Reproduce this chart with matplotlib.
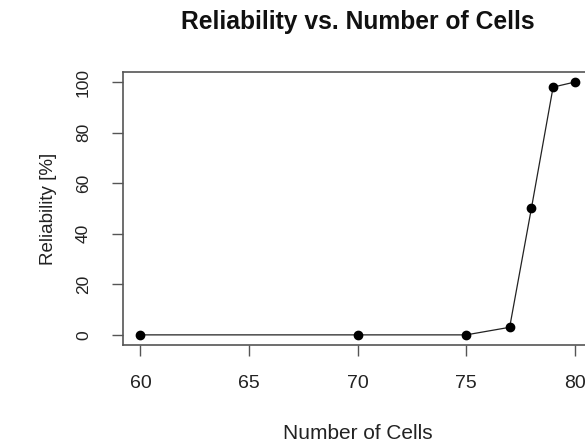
# reliability vs number of cells, R base-plot look
import matplotlib
matplotlib.use("Agg")
import matplotlib.pyplot as plt

cells = [60, 70, 75, 77, 78, 79, 80]
reliability = [0, 0, 0, 3, 50, 98, 100]
xticks = [60, 65, 70, 75, 80]
yticks = [0, 20, 40, 60, 80, 100]

plt.rcParams['font.family'] = ['Liberation Sans', 'DejaVu Sans']

fig = plt.figure(figsize=(5.85, 4.44), dpi=100)
# axes run past the right edge, the original image is cropped there
ax = fig.add_axes([0.2103, 0.223, 0.802, 0.615])

ax.plot(cells, reliability, '-', color='#222222', lw=0.9)
ax.plot(cells, reliability, 'o', color='black', ms=6)

ax.set_xlim(59.2, 80.8)
ax.set_ylim(-4, 104)
ax.set_xticks(xticks)
ax.set_yticks(yticks)
ax.tick_params(axis='both', direction='out', length=8, width=1,
               color='#555555', labelcolor='#222222')
ax.tick_params(axis='x', labelsize=14, pad=13.5)
ax.tick_params(axis='y', labelsize=12.5, pad=15)
for lab in ax.get_yticklabels():
    lab.set_rotation(90)
    lab.set_va('center')
for s in ax.spines.values():
    s.set_color('#555555')
    s.set_linewidth(1.2)

ax.set_xlabel("Number of Cells", fontsize=15, color='#222222', labelpad=23)
ax.set_ylabel("Reliability [%]", fontsize=13.5, color='#222222', labelpad=14)
fig.text(0.612, 0.9347, "Reliability vs. Number of Cells", fontsize=17.7,
         fontweight='bold', ha='center', va='baseline', color='#111111')

fig.savefig("out.png", dpi=100)
